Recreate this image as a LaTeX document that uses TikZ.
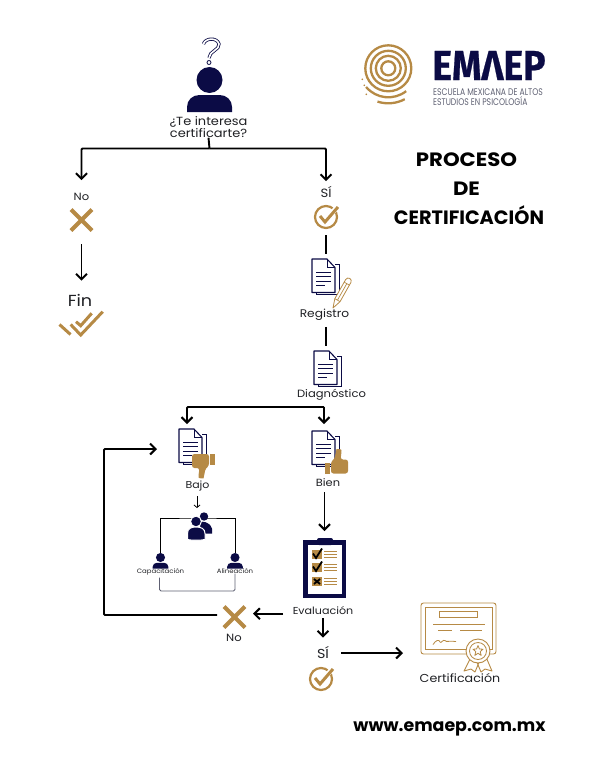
\documentclass[tikz,border=0pt]{standalone}
\usepackage{fontspec}
\usepackage{xcolor}
\usetikzlibrary{arrows.meta,positioning,calc}
\setmainfont{Poppins}
\newfontfamily\etiqueta{Poppins}[FakeStretch=1.1]
\newfontfamily\marcafont{Fira Sans}[UprightFont=* Bold,FakeBold=0.6]
\definecolor{ink}{HTML}{1F2024}
\definecolor{navy}{HTML}{0B0B45}
\definecolor{gold}{HTML}{B68A45}
\definecolor{slate}{HTML}{5E6072}
\tikzset{
  tag/.style={font=\etiqueta\fontsize{#1}{12}\selectfont,text=ink,inner sep=0pt,align=center},
  tag/.default=10,
  title/.style={font=\fontsize{19.3}{22}\selectfont\bfseries,text=black,inner sep=0pt,align=center},
  hold/.style n args={2}{inner sep=0pt,outer sep=0pt,minimum width=#1,minimum height=#2},
  flow/.style={-{Straight Barb[length=5.5pt,width=11pt,line width=2pt]},line width=1.9pt,draw=black},
  bar/.style={line width=1.9pt,draw=black},
  tree/.style={line width=0.9pt,draw=black},
  aspa/.pic={
    \draw[gold,line width=4.2pt] (-10.5,-10.5) -- (10.5,10.5) (-10.5,10.5) -- (10.5,-10.5);
  },
  visto/.pic={
    \draw[gold,line width=2.2pt] (0,0) circle (11);
    \draw[white,line width=5pt] (-1,4) -- (12,-11);
    \draw[gold,line width=3pt] (-6,-1) -- (-1,5) -- (12,-10);
  },
  persona/.pic={
    \fill[navy] (0,0) circle (13);
    \fill[navy] (-22.5,32) -- (-22.5,27) .. controls (-22.5,20) and (-17,15) .. (-10,15) -- (10,15) .. controls (17,15) and (22.5,20) .. (22.5,27) -- (22.5,32) -- cycle;
  },
  grupo/.pic={
    \fill[navy] (6,-9) circle (4.2);
    \fill[navy] (1,-4) .. controls (4,-3.5) and (11,-5) .. (14,3) -- (14,8) -- (4,8) -- cycle;
    \draw[white,line width=1pt,fill=navy] (-2,-4) circle (5.4);
    \draw[white,line width=1pt,fill=navy] (-10.5,14) -- (-10.5,8) .. controls (-10.5,3) and (-7,1.5) .. (-2,1.5) .. controls (3,1.5) and (7,3) .. (7,8) -- (7,14) .. controls (2,15) and (-6,15) .. (-10.5,14) -- cycle;
  },
  pagina/.pic={
    \draw[navy,line width=0.8pt] (23,5) -- (27,5) -- (27,35.5) -- (4.5,35.5) -- (4.5,33.5);
    \draw[navy,line width=1.1pt,fill=white,line join=round] (0,0) -- (15,0) -- (23,8.5) -- (23,33.5) -- (0,33.5) -- cycle;
    \draw[navy,line width=0.8pt] (15,0) -- (15,8.5) -- (23,8.5);
    \draw[navy,line width=0.8pt] (4,13) -- (19,13) (4,17.5) -- (19,17.5) (4,22) -- (19,22) (4,26.5) -- (13,26.5);
  },
  pulgar/.pic={
    \fill[gold] (-11.5,1.5) rectangle (-6.5,12);
    \fill[gold,rounded corners=2.5pt] (-5.5,12) -- (-5.5,0) -- (-2,-2.5) -- (-0.5,-10) .. controls (0,-12.5) and (5,-12.5) .. (5,-9) -- (4,-2) -- (11.5,-2) -- (11.5,12) -- cycle;
  },
  lapiz/.pic={
    \draw[gold,line width=0.8pt,fill=white,line join=round] (0,0) -- (-3,-9) -- (-3,-31) .. controls (-3,-35) and (3,-35) .. (3,-31) -- (3,-9) -- cycle;
    \draw[gold,line width=0.7pt] (-3,-9) -- (3,-9) (-3,-28) -- (3,-28) (0,-9) -- (0,-28);
  },
  duda/.pic={
    \draw[navy,line width=0.8pt,double=white,double distance=1.6pt] (-5.5,-13) .. controls (-4,-19) and (8,-20) .. (10,-13) .. controls (11,-7) and (0,-6) .. (0,1);
    \draw[navy,line width=0.8pt,fill=white] (0,5.5) circle (2);
  },
  tablilla/.pic={
    \fill[navy] (0,2) rectangle (43,60);
    \fill[white] (5,7) rectangle (39,56);
    \fill[navy,rounded corners=2pt] (14,0) rectangle (30,7);
    \foreach \fila in {12,25,39}{
      \fill[gold] (9,\fila) rectangle (19,\fila+9);
      \draw[gold,line width=1.5pt] (21,\fila+1.5) -- (34,\fila+1.5) (21,\fila+4.5) -- (34,\fila+4.5) (21,\fila+7.5) -- (34,\fila+7.5);
    }
    \draw[black,line width=1.8pt] (10,15.5) -- (13,20) -- (19,10.5);
    \draw[black,line width=1.8pt] (10,28.5) -- (13,33) -- (19,23.5);
    \draw[black,line width=1.8pt] (11,41) -- (17,46) (11,46) -- (17,41);
  },
  diploma/.pic={
    \draw[gold,line width=0.9pt,rounded corners=2.5pt] (0,0) rectangle (75,51);
    \draw[gold,line width=0.8pt] (4,4) rectangle (71,46);
    \draw[gold,line width=0.9pt] (18,8) rectangle (56,14);
    \draw[gold,line width=0.8pt] (12,21) -- (64,21) (17,27) -- (31,27) (39,27) -- (61,27);
    \draw[gold,line width=0.8pt] (12,41.5) .. controls (15,37) and (18,36) .. (19,39) .. controls (20,41) and (22,36) .. (24,37.5) .. controls (25,39.5) and (28,37.5) .. (35,38.5);
    \draw[gold,line width=0.9pt,fill=white,line join=round] (50,54) -- (43,68) -- (50,66) -- (54,69) -- (59,57) (65,54) -- (71,68) -- (64,66) -- (60,69) -- (55,57);
    \draw[gold,line width=0.9pt,fill=white] (57,48) circle (12);
    \draw[gold,line width=0.8pt] (57,48) circle (8.5);
    \draw[gold,line width=0.8pt,line join=round] (57,42.5) -- (58.4,46) -- (62,46.2) -- (59.2,48.6) -- (60.2,52.4) -- (57,50.3) -- (53.8,52.4) -- (54.8,48.6) -- (52,46.2) -- (55.6,46) -- cycle;
  },
  espiral/.pic={
    \foreach \radio in {7,12.5,17.5,23}{
      \draw[gold,line width=2.3pt] (0,0) circle (\radio);
    }
    \draw[gold,line width=2.3pt] (140:29) arc[start angle=140,end angle=52,radius=29];
    \draw[gold,line width=2.3pt] (108:35) arc[start angle=108,end angle=62,radius=35];
    \fill[gold] (-26,11) circle (0.9) (-24,17) circle (0.9) (-22,26) circle (0.9);
  },
}
\begin{document}
\begin{tikzpicture}[x=1pt,y=-1pt]
  \useasboundingbox (0,0) rectangle (594,768);
  % logo and heading
  \pic at (388.3,68.3) {espiral};
  \node[inner sep=0pt,text=navy,font=\marcafont\fontsize{42}{42}\selectfont] (marca) at (489,65.5) {\scalebox{0.89}[1]{EMΛEP}};
  \node[inner sep=0pt,text=slate,align=left,anchor=west,font=\fontsize{9.6}{10.2}\selectfont] (escuela) at (433,97.5) {\scalebox{0.8}[1]{ESCUELA MEXICANA DE ALTOS}\\\scalebox{0.8}[1]{ESTUDIOS EN PSICOLOGÍA}};
  \node[title] (proceso) at (466.5,160) {\scalebox{1.1}[1]{PROCESO}};
  \node[title] (de) at (466.5,189) {\scalebox{1.1}[1]{DE}};
  \node[title] (certificacion) at (469,215) {CERTIFICACIÓN};
  \node[font=\fontsize{17.4}{20}\selectfont\bfseries,text=black,inner sep=0pt] (web) at (449.5,729) {www.emaep.com.mx};

  % top question
  \pic at (209.5,80) {persona};
  \pic at (209,57) {duda};
  \node[tag=11.8] (pregunta) at (208.5,127) {¿Te interesa\\certificarte?};
  \coordinate (rama) at (209.5,148.5);
  \draw[bar] (pregunta.south) -- (rama);

  % left branch
  \node[tag=10.5] (no) at (81.5,197) {No};
  \node[hold={25}{25}] (aspano) at (81.5,220) {};
  \pic at (aspano) {aspa};
  \node[tag=16] (fin) at (80,300) {Fin};
  \node[hold={44}{25}] (doble) at (81,323) {};
  \draw[gold,line width=3pt] (59.5,324.5) -- (70.5,334.5) (70.7,324.5) -- (80.7,335) -- (102.7,311.7) (76,321.7) -- (80.7,325.7) -- (91.7,313.3);
  \draw[flow,rounded corners=1pt] (rama) -| ([yshift=13pt]no.north);
  \draw[flow,shorten <=11.5pt,shorten >=13pt] (aspano.south) -- (aspano.south |- fin.north);

  % right branch
  \node[tag=12] (si) at (326,192) {SÍ};
  \node[hold={24}{24}] (vistosi) at (326,217) {};
  \pic at (vistosi) {visto};
  \draw[flow,rounded corners=1pt] (rama) -| ([yshift=5pt]si.north);

  \node[hold={28}{36}] (docreg) at (326,277) {};
  \pic at (docreg.north west) {pagina};
  \pic[rotate=-29.5] at (333,308) {lapiz};
  \node[tag=11.1] (registro) at (324.5,315) {Registro};
  \node[hold={28}{36}] (docdiag) at (328,369) {};
  \pic at (docdiag.north west) {pagina};
  \node[tag=10.5] (diagnostico) at (331.5,395) {Diagnóstico};
  \draw[bar,shorten <=6pt,shorten >=5pt] (vistosi.south) -- (docreg.north);
  \draw[bar,shorten <=6pt,shorten >=5pt] (si |- registro.south) -- (si |- docdiag.north);

  % diagnosis split
  \coordinate (ramadiag) at (324,407);
  \coordinate (inbajo) at (187,424);
  \coordinate (inbien) at (324,424);
  \draw[flow,rounded corners=1pt] (ramadiag) -| (inbajo);
  \draw[flow] (ramadiag) -- (inbien);

  \node[hold={28}{36}] (docbajo) at (193,447) {};
  \pic at (docbajo.north west) {pagina};
  \pic[rotate=180] at (203.5,466) {pulgar};
  \node[tag=10] (bajo) at (197.5,486) {Bajo};
  \node[hold={28}{36}] (docbien) at (326,449) {};
  \pic at (docbien.north west) {pagina};
  \pic at (336.5,461.5) {pulgar};
  \node[tag=10.4] (bien) at (328,483) {Bien};

  % low result
  \node[hold={24}{27}] (equipo) at (198,526.5) {};
  \coordinate (ramagrupo) at (198,518);
  \node[hold={16}{16}] (percap) at (160.5,561) {};
  \node[hold={16}{16}] (peral) at (235,561) {};
  \draw[tree] (percap.north) |- (ramagrupo) -| (peral.north);
  \pic at ([yshift=1pt]equipo) {grupo};
  \pic[scale=0.35] at (160.5,557.5) {persona};
  \pic[scale=0.35] at (235,557.5) {persona};
  \node[tag=6.3] (capacitacion) at (160.5,572) {Capacitación};
  \node[tag=6.3] (alineacion) at (235,571) {Alineación};
  \coordinate (cierre) at (197,591);
  \draw[-{Straight Barb[length=2.5pt,width=6pt]},line width=0.8pt,shorten <=5pt,shorten >=5pt] (bajo.south -| equipo.north) ++(-1,0) -- ([xshift=-1pt]equipo.north);
  \draw[line width=0.9pt,draw=slate,rounded corners=1.5pt,shorten <=2pt] (capacitacion.south) ++(-1,0) |- (cierre) -| (alineacion.south);

  % evaluation
  \node[hold={43}{60}] (tabla) at (324.5,568) {};
  \pic at (tabla.north west) {tablilla};
  \node[tag=10.1] (evaluacion) at (323,611) {Evaluación};
  \draw[flow,shorten <=5pt,shorten >=7pt] (tabla |- bien.south) -- (tabla.north);
  \node[hold={25}{25}] (aspaev) at (234.5,617) {};
  \pic at (aspaev) {aspa};
  \node[tag=10.5] (noev) at (234,638) {No};
  \coordinate (salida) at (283,613.7);
  \draw[flow,shorten >=6pt] (salida) -- (salida -| aspaev.east);
  \coordinate (esquina) at (104,615);
  \coordinate (entrada) at (157,449);
  \draw[flow,rounded corners=1pt] (esquina -| aspaev.west) ++(-5,0) -- (esquina) |- (entrada);
  \node[tag=13] (sifinal) at (323,653) {SÍ};
  \node[hold={24}{24}] (vistofinal) at (321,679) {};
  \pic at (vistofinal) {visto};
  \draw[flow,shorten <=3pt,shorten >=9pt] (sifinal |- evaluacion.south) -- (sifinal.north);

  % result
  \node[hold={75}{51}] (titulo) at (458.5,628.5) {};
  \pic at (titulo.north west) {diploma};
  \node[tag=11.5] (obtenido) at (460,678) {Certificación};
  \coordinate (llegada) at (403,653);
  \draw[flow,line width=2.6pt,shorten <=12pt] (sifinal.east) -- (llegada);
\end{tikzpicture}
\end{document}
